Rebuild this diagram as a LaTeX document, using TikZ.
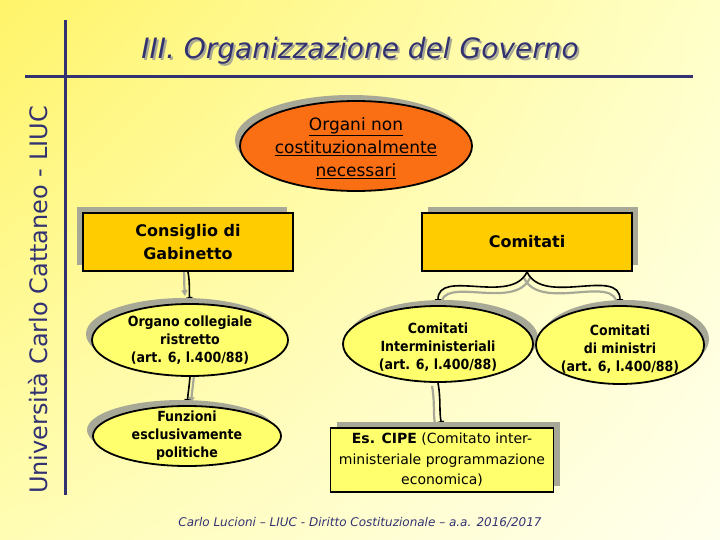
\documentclass[tikz,border=0pt]{standalone}
\usepackage{fontspec}
\setmainfont{DejaVu Sans}
\newfontfamily\condf{DejaVu Sans Condensed}
\usetikzlibrary{shapes.geometric,shadows,shadings,arrows.meta}
\pgfdeclarelayer{bg}
\pgfdeclarelayer{links}
\pgfsetlayers{bg,links,main}
\definecolor{navy}{RGB}{50,50,115}
\definecolor{gold}{RGB}{255,204,0}
\definecolor{orng}{RGB}{250,110,20}
\definecolor{lyel}{RGB}{255,255,110}
\definecolor{shd}{RGB}{168,168,150}
\definecolor{bgA}{RGB}{255,244,105}
\definecolor{bgB}{RGB}{255,255,200}
\definecolor{bgC}{RGB}{255,253,180}
\definecolor{bgD}{RGB}{255,255,238}
\newcommand{\shadowtext}[1]{\makebox[0pt][l]{\hspace{2pt}\raisebox{-2pt}{\textcolor{shd}{#1}}}#1}
\begin{document}
\begin{tikzpicture}[x=1pt,y=-1pt,
  box/.style={rectangle, draw=black, line width=1.8pt, align=center, text=black},
  ell/.style={ellipse, draw=black, line width=1.8pt, fill=lyel},
  lbl/.style={align=center, inner sep=0pt, text=black},
  elbl/.style={lbl, font=\condf\bfseries\fontsize{14}{18}\selectfont},
  lnk/.style={draw=black, line width=1.6pt, -{Triangle[length=6pt,width=6pt]}},
  lnkshd/.style={draw=shd, line width=2.2pt, -{Triangle[length=6pt,width=6pt]}},
  dsh/.style={drop shadow={shadow xshift=#1, shadow yshift=6pt, fill=shd, opacity=1}}]
\begin{pgfonlayer}{bg}
\shade[upper left=bgA, upper right=bgB, lower left=bgC, lower right=bgD] (0,0) rectangle (720,540);
\end{pgfonlayer}
\useasboundingbox (0,0) rectangle (720,540);

% frame lines
\draw[navy, line width=3pt] (65,20) -- (65,495);
\draw[navy, line width=3pt] (25,77) -- (693,77);

% title and side text
\node[text=navy, font=\fontsize{28}{32}\selectfont\itshape] (title) at (360,52) {\shadowtext{III. Organizzazione del Governo}};
\node[rotate=90, text=navy, font=\fontsize{24}{28}\selectfont] (univ) at (38,300) {Università Carlo Cattaneo - LIUC};
\node[text=navy, font=\fontsize{12}{14}\selectfont\itshape] (foot) at (360,522) {Carlo Lucioni – LIUC - Diritto Costituzionale – a.a. 2016/2017};

% orange ellipse
\node[ell, fill=orng, minimum width=232pt, minimum height=90pt, dsh=-5pt] (orn) at (356,146) {};
\node[lbl, font=\fontsize{17}{23}\selectfont] (ornT) at (356,148) {\underline{Organi non}\\\underline{costituzionalmente}\\\underline{necessari}};

% boxes
\node[box, fill=gold, minimum width=210pt, minimum height=58pt, dsh=-6pt, font=\fontsize{16}{23}\selectfont\bfseries] (cons) at (188,242) {Consiglio di\\Gabinetto};
\node[box, fill=gold, minimum width=210pt, minimum height=58pt, dsh=6pt, font=\fontsize{16}{23}\selectfont\bfseries] (comi) at (527,242) {Comitati};

% ellipses
\node[ell, minimum width=196pt, minimum height=72pt, dsh=-6pt] (org) at (190,340) {};
\node[elbl] (orgT) at (190,340) {Organo collegiale\\ristretto\\(art. 6, l.400/88)};
\node[ell, minimum width=188pt, minimum height=60pt, dsh=-6pt] (funz) at (187,436) {};
\node[elbl] (funzT) at (187,436) {Funzioni\\esclusivamente\\politiche};
\node[ell, minimum width=190pt, minimum height=76pt, dsh=5pt] (cint) at (438,344) {};
\node[elbl] (cintT) at (438,347) {Comitati\\Interministeriali\\(art. 6, l.400/88)};
\node[ell, minimum width=168pt, minimum height=78pt, dsh=5pt] (cmin) at (620,345) {};
\node[elbl] (cminT) at (620,349) {Comitati\\di ministri\\(art. 6, l.400/88)};

% CIPE box
\node[box, fill=lyel, minimum width=223pt, minimum height=64pt, dsh=6pt, font=\fontsize{14}{20.5}\selectfont] (cipe) at (442,460) {\textbf{Es. CIPE} (Comitato inter-\\ministeriale programmazione\\economica)};

% connectors (out/in angles are canvas angles: negative = downwards)
\begin{pgfonlayer}{links}
\draw[lnkshd, transform canvas={xshift=-5pt,yshift=7pt}] (cons.south) to[out=-80,in=95] (org.north);
\draw[lnk] (cons.south) to[out=-80,in=95] (org.north);
\draw[lnkshd, transform canvas={xshift=4pt,yshift=2pt}] (org.south) to[out=-95,in=85] (funz.north);
\draw[lnk] (org.south) to[out=-95,in=85] (funz.north);
\draw[lnkshd, transform canvas={xshift=3pt,yshift=-6pt}] (comi.south) to[out=-115,in=90] (cint.north);
\draw[lnkshd, transform canvas={xshift=-3pt,yshift=-6pt}] (comi.south) to[out=-65,in=90] (cmin.north);
\draw[lnk] (comi.south) to[out=-115,in=90] (cint.north);
\draw[lnk] (comi.south) to[out=-65,in=90] (cmin.north);
\draw[lnkshd, transform canvas={xshift=-6pt,yshift=-3pt}] (cint.south) to[out=-80,in=100] (cipe.north);
\draw[lnk] (cint.south) to[out=-80,in=100] (cipe.north);
\end{pgfonlayer}
\end{tikzpicture}
\end{document}
